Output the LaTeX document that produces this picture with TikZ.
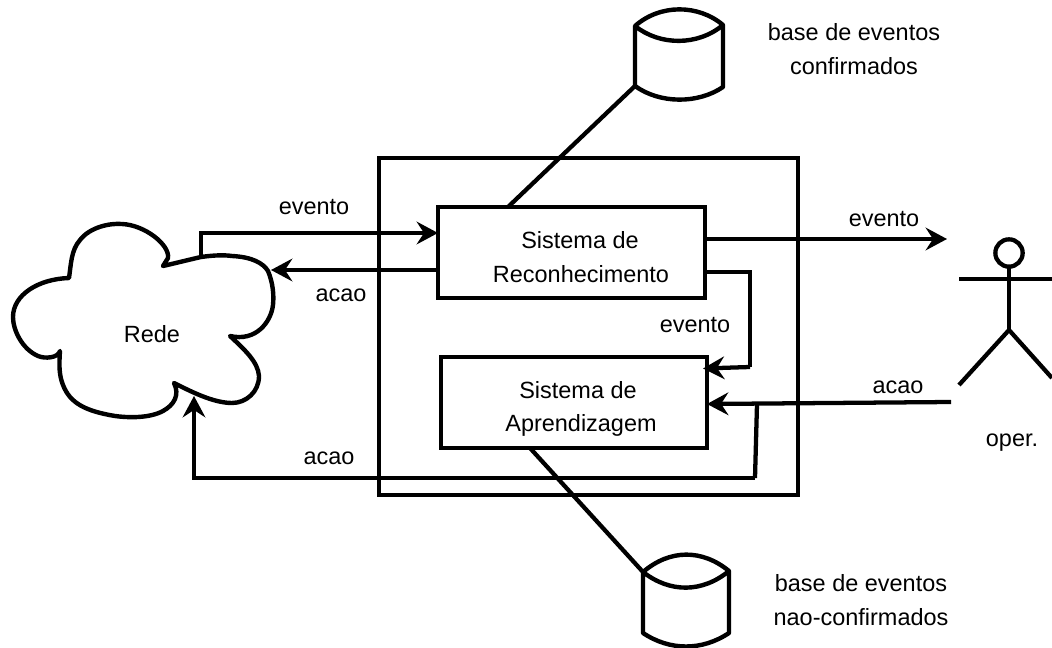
\documentclass[tikz,border=0pt]{standalone}
\usepackage{fontspec}
\setmainfont{Liberation Sans}
\usetikzlibrary{arrows.meta}
\tikzset{
  heavy/.style={draw=black,line width=3.3pt,line join=miter},
  conn/.style={draw=black,line width=3.2pt,line join=miter},
  tipped/.style={conn,-{Stealth[length=16pt,width=17pt,inset=5.5pt]}},
  boxnode/.style={draw=black,line width=3.3pt,inner sep=0pt,outer sep=0pt,fill=none},
  lbl/.style={font=\fontsize{17.6pt}{20pt}\selectfont,text=black,inner sep=0pt,anchor=base},
}
\begin{document}
\begin{tikzpicture}[x=0.75pt,y=-0.75pt]
\useasboundingbox (0,0) rectangle (1052,648);
% outer frame
\node[boxnode,minimum width=314.25pt,minimum height=252.75pt] (outer) at (588.5,326.5) {};
% inner boxes
\node[boxnode,minimum width=200.25pt,minimum height=68.25pt] (recon) at (571.5,252.5) {};
\node[boxnode,minimum width=199.5pt,minimum height=68.25pt] (aprend) at (574,402.5) {};
% cloud
\draw[heavy,line join=round] (163,266)
  .. controls (176,263) and (188,260) .. (201,257)
  .. controls (215,255) and (225,255) .. (232,256)
  .. controls (252,257) and (263,263) .. (268,271)
  .. controls (273,283) and (274,295) .. (273,305)
  .. controls (271,322) and (256,342) .. (230,336)
  .. controls (245,350) and (258,362) .. (259,376)
  .. controls (259,392) and (246,403) .. (232,403)
  .. controls (213,403) and (190,391) .. (174,383)
  .. controls (180,395) and (174,405) .. (163,411)
  .. controls (150,418) and (130,418) .. (115,416)
  .. controls (85,411) and (70,403) .. (63,385)
  .. controls (59,375) and (59,365) .. (60,351)
  .. controls (58,358) and (45,359) .. (38,356)
  .. controls (22,349) and (13,330) .. (13,317)
  .. controls (13,295) and (38,279) .. (69,278)
  .. controls (71,265) and (71,250) .. (80,240)
  .. controls (90,227) and (110,223) .. (122,224)
  .. controls (145,225) and (170,245) .. (168,258)
  -- cycle;
\coordinate (cloudtop) at (201,257);
\coordinate (cloudright) at (271,270);
\coordinate (cloudbottom) at (194,396);
% cylinder top
\draw[heavy,line join=round] (635,26) .. controls (660,4) and (698,4) .. (723,25)
  .. controls (698,46) and (660,46) .. (635,26) -- (635,86)
  .. controls (660,104) and (698,104) .. (723,87) -- (723,25);
\coordinate (cylA) at (635,86);
% cylinder bottom
\draw[heavy,line join=round] (643,572) .. controls (670,549) and (702,549) .. (729,571)
  .. controls (702,593) and (670,593) .. (643,572) -- (643,633)
  .. controls (670,651) and (702,651) .. (729,633) -- (729,571);
\coordinate (cylB) at (643,572);
% actor
\node[draw=black,line width=3.2pt,circle,minimum size=20.5pt,inner sep=0pt,outer sep=0pt] (head) at (1009,253) {};
\coordinate (armL) at (959,279);
\coordinate (armR) at (1052,279);
\coordinate (hip) at (1009,330);
\coordinate (legL) at (959,385);
\coordinate (legR) at (1052,378);
\draw[conn] (head.south) -- (hip);
\draw[conn] (armL) -- (armR);
\draw[conn] (legL) -- (hip) -- (legR);
% ports
\coordinate (opOut) at (947,239);
\coordinate (opIn) at (951,402);
\coordinate (cornerR) at (750,272);
\coordinate (cornerRb) at (750,367);
\coordinate (tapA) at (757,404);
\coordinate (tapB) at (755,478);
% connectors
\draw[tipped] (cloudtop) -- (201,233) -- (recon.west |- 0,233);
\draw[tipped] (recon.west |- 0,270) -- (cloudright);
\draw[tipped] (recon.east |- 0,239) -- (opOut);
\draw[conn] (recon.east |- 0,272) -- (cornerR) -- (cornerRb);
\draw[tipped] (750,367) -- (703,368.5);
\draw[tipped] (opIn) -- (aprend.east |- 0,404);
\draw[conn] (tapA) -- (tapB);
\draw[tipped] (tapB) -- (194,478) -- (cloudbottom);
\draw[conn] (recon.north -| 508,0) -- (cylA);
\draw[conn] (aprend.south -| 530,0) -- (cylB);
% labels
\node[lbl] (t1) at (580,249) {Sistema de};
\node[lbl] (t2) at (581,283) {Reconhecimento};
\node[lbl] (t3) at (578,398) {Sistema de};
\node[lbl] (t4) at (581,431) {Aprendizagem};
\node[lbl] (t5) at (152,342) {Rede};
\node[lbl] (t6) at (314,215) {evento};
\node[lbl] (t7) at (341,302) {acao};
\node[lbl] (t8) at (884,227) {evento};
\node[lbl] (t9) at (695,333) {evento};
\node[lbl] (t10) at (898,393) {acao};
\node[lbl] (t11) at (329,464) {acao};
\node[lbl] (t12) at (1012,446) {oper.};
\node[lbl] (t13) at (854,41) {base de eventos};
\node[lbl] (t14) at (854,75) {confirmados};
\node[lbl] (t15) at (861,591) {base de eventos};
\node[lbl] (t16) at (861,625) {nao-confirmados};
\end{tikzpicture}
\end{document}
